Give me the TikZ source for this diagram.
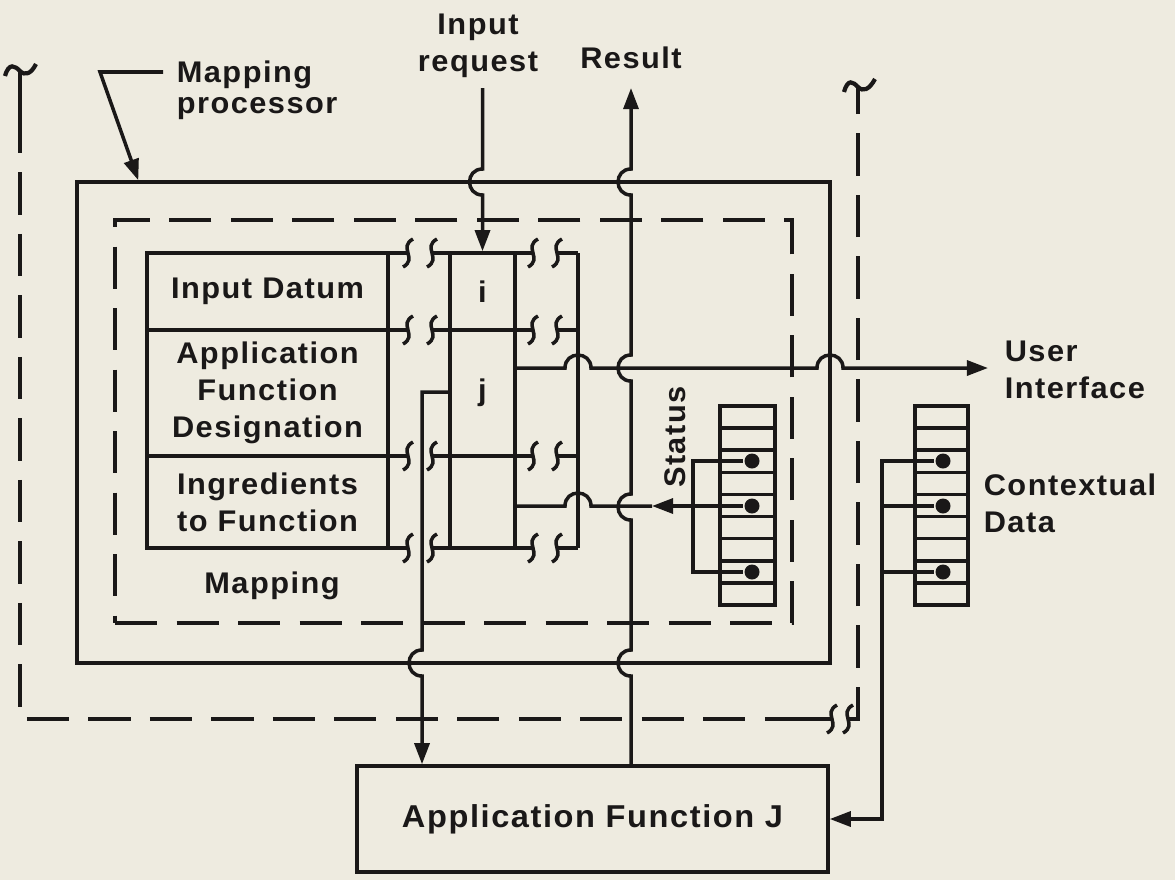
\documentclass[tikz,border=0pt]{standalone}
\usepackage{fontspec}
\setmainfont[FakeStretch=1.03,LetterSpace=5]{Liberation Sans}
\usetikzlibrary{arrows.meta}
\definecolor{ink}{RGB}{26,24,24}
\definecolor{paper}{RGB}{238,235,224}
\newcommand\txtsz{\fontsize{17}{21}\selectfont\bfseries}
\begin{document}
\begin{tikzpicture}[x=0.02cm,y=-0.02cm,color=ink,line width=2pt,
  cell/.style={draw,inner sep=0pt,font=\txtsz,align=center},
  lab/.style={inner sep=0pt,font=\txtsz,align=center},
  tip/.style={-{Triangle[length=12pt,width=8.5pt]}},
  dsh/.style={dash pattern=on 24pt off 11pt},
  dot/.style={circle,fill,inner sep=0pt,minimum size=0.3cm},
  squig/.pic={\draw (-5,14) .. controls (10,6) and (-10,-6) .. (5,-14);}]
\fill[paper] (0,0) rectangle (1175,880);
\useasboundingbox (0,0) rectangle (1175,880);

% outer dashed frame (user's domain)
\draw[line width=2.4pt] (5,76) .. controls (9,62) and (15,66) .. (20,71) .. controls (25,76) and (31,74) .. (36,64);
\draw (20,71) -- (20,132);
\draw[dsh,dash phase=-23pt] (20,132) -- (20,719) -- (826,719);
\draw (795,719) -- (832,719);
\pic at (832,719) {squig};
\pic at (848,719) {squig};
\draw[dsh] (848,719) -- (858,719) -- (858,110);
\draw (858,110) -- (858,87);
\draw[line width=2.4pt] (844,92) .. controls (848,78) and (853,82) .. (858,87) .. controls (863,92) and (869,90) .. (875,79);

% boxes
\node[draw,inner sep=0pt,minimum width=15.06cm,minimum height=9.62cm] (proc) at (453.5,422.5) {};
\node[draw,dsh,inner sep=0pt,minimum width=13.54cm,minimum height=8.06cm] (map) at (453.5,421.5) {};

% mapping table
\node[cell,minimum width=4.82cm,minimum height=1.54cm] (idat) at (267.5,291.5) {Input Datum};
\node[cell,minimum width=4.82cm,minimum height=2.52cm] (afd) at (267.5,393) {Application\\Function\\Designation};
\node[cell,minimum width=4.82cm,minimum height=1.84cm] (ing) at (267.5,502) {Ingredients\\to Function};
\node[cell,minimum width=1.3cm,minimum height=1.54cm] (ci) at (482.5,291.5) {i};
\node[cell,minimum width=1.3cm,minimum height=2.52cm] (cj) at (482.5,393) {j};
\node[cell,minimum width=1.3cm,minimum height=1.84cm] (ck) at (482.5,502) {};
\node[lab] (lmap) at (272,586) {Mapping};

\foreach \yy in {253,330,456,548} {
  \draw (388,\yy) -- (408,\yy);
  \pic at (408,\yy) {squig};
  \pic at (432,\yy) {squig};
  \draw (432,\yy) -- (450,\yy);
  \draw (515,\yy) -- (533,\yy);
  \pic at (533,\yy) {squig};
  \pic at (557,\yy) {squig};
  \draw (557,\yy) -- (578,\yy);
}
\draw (578,253) -- (578,548);

% application function box
\node[draw,inner sep=0pt,minimum width=9.42cm,minimum height=2.12cm,font=\fontsize{18}{21}\selectfont\bfseries] (app) at (592.5,819) {Application Function J};

% input request
\node[lab] (lin) at (478,46) {Input\\request};
\coordinate (inq) at (482.5,88);
\draw[tip] (inq) -- (482.5,169) .. controls (465.2,169) and (465.2,195) .. (482.5,195) -- (ci.north);

% result
\node[lab] (lres) at (631,58) {Result};
\coordinate (res) at (631,88);
\draw[tip] (res |- app.north) -- (631,676) .. controls (613.7,676) and (613.7,650) .. (631,650)
  -- (631,520) .. controls (613.7,520) and (613.7,494) .. (631,494)
  -- (631,381) .. controls (613.7,381) and (613.7,355) .. (631,355)
  -- (631,195) .. controls (613.7,195) and (613.7,169) .. (631,169) -- (res);

% j to application function
\coordinate (jx) at (422,392);
\draw[tip] (cj.west |- jx) -- (jx) -- (422,650) .. controls (404.7,650) and (404.7,676) .. (422,676) -- (jx |- app.north);

% user interface
\coordinate (ui) at (988,368);
\coordinate (uo) at (515,368);
\draw[tip] (uo) -- (565,368) .. controls (565,350.7) and (591,350.7) .. (591,368)
  -- (817,368) .. controls (817,350.7) and (843,350.7) .. (843,368) -- (ui);
\node[lab,align=left,anchor=west] (lui) at (1003,370) {User\\Interface};

% mapping processor label
\node[lab,align=left,anchor=west,font=\fontsize{17}{17.5}\selectfont\bfseries] (lmp) at (175,90) {Mapping\\processor};
\coordinate (mpa) at (163,72);
\draw[tip] (mpa) -- (100,72) -- ([xshift=1.26cm]proc.north west);

% status register
\node[draw,inner sep=0pt,minimum width=1.1cm,minimum height=3.98cm] (sreg) at (747.5,505.5) {};
\foreach \k in {1,...,8} \draw (720,{406+\k*22.11}) -- (775,{406+\k*22.11});
\node[dot] (sd1) at (752,461) {};
\node[dot] (sd2) at (752,506) {};
\node[dot] (sd3) at (752,572) {};
\draw (sd1) -- (693,461) -- (693,572) -- (sd3);
\coordinate (sa) at (652,506);
\draw[tip] (sd2) -- (sa);
\draw (sa) -- (591,506) .. controls (591,488.7) and (565,488.7) .. (565,506) -- (515,506);
\node[lab,rotate=90] (stat) at (675,437) {Status};

% contextual data register
\node[draw,inner sep=0pt,minimum width=1.06cm,minimum height=3.98cm] (creg) at (941.5,505.5) {};
\foreach \k in {1,...,8} \draw (915,{406+\k*22.11}) -- (968,{406+\k*22.11});
\node[dot] (cd1) at (943,461) {};
\node[dot] (cd2) at (943,506) {};
\node[dot] (cd3) at (943,572) {};
\draw[tip] (cd1) -- (882,461) -- (882,819) -- (app.east);
\draw (cd2) -- (882,506);
\draw (cd3) -- (882,572);
\node[lab,align=left,anchor=west] (lcd) at (982,503) {Contextual\\Data};
\end{tikzpicture}
\end{document}
